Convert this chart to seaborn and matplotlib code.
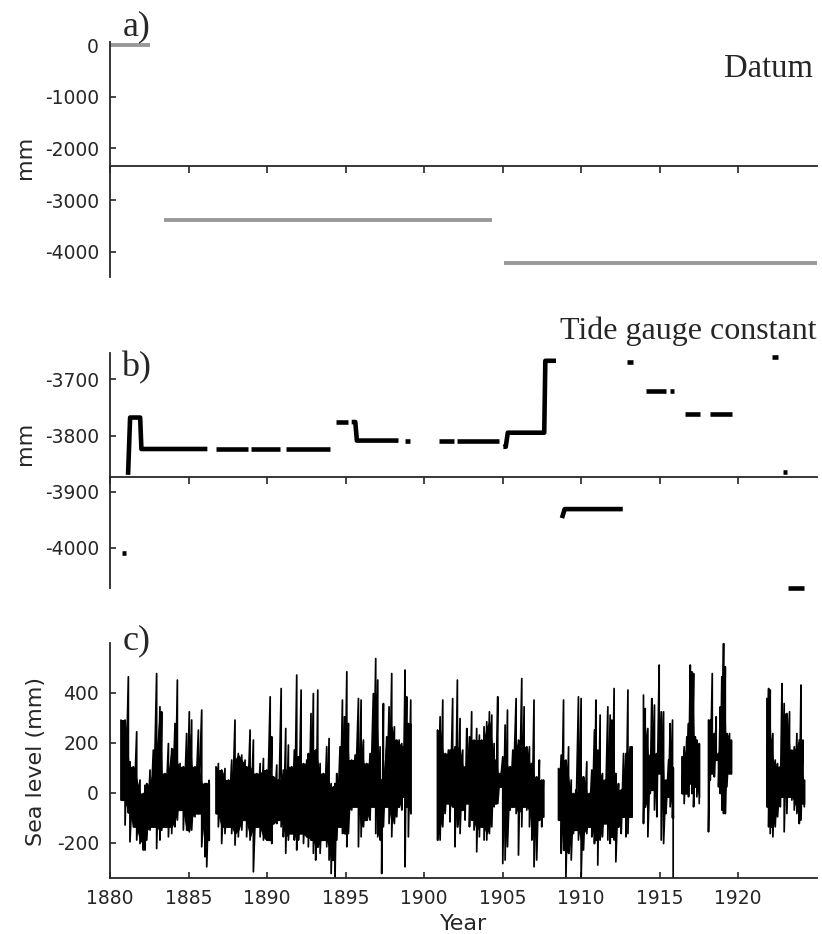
import numpy as np
import pandas as pd
import matplotlib
matplotlib.use("Agg")
import matplotlib.pyplot as plt
import seaborn as sns

# a) datum levels (mm), one flat piece per datum period
datum_start = [1880.0, 1883.47, 1905.1]
datum_end = [1882.55, 1904.3, 1925.0]
datum_level = [0, -3390, -4225]

# b) tide gauge constant (mm), None marks a break in the record
tgc_year = [1880.76, 1881.04, None,
            1881.15, 1881.28, 1881.92, 1882.0, 1886.2, None,
            1886.75, 1888.77, None,
            1888.95, 1890.83, None,
            1891.2, 1894.0, None,
            1894.37, 1895.18, None,
            1895.39, 1895.62, 1895.72, 1898.37, None,
            1898.8, 1899.1, None,
            1900.95, 1901.9, None,
            1902.1, 1904.8, None,
            1905.05, 1905.2, 1905.33, 1907.65, 1907.72, 1908.4, None,
            1908.78, 1908.95, 1912.65, None,
            1912.9, 1913.3, None,
            1914.15, 1915.4, None,
            1915.63, 1915.93, None,
            1916.6, 1917.6, None,
            1918.2, 1919.6, None,
            1922.15, 1922.55, None,
            1922.84, 1923.08, None,
            1923.2, 1924.2]
tgc_value = [-4009, -4009, None,
             -3870, -3768, -3768, -3824, -3824, None,
             -3824, -3824, None,
             -3824, -3824, None,
             -3824, -3824, None,
             -3776, -3776, None,
             -3776, -3776, -3809, -3809, None,
             -3809, -3809, None,
             -3809, -3809, None,
             -3809, -3809, None,
             -3820, -3820, -3795, -3795, -3667, -3667, None,
             -3947, -3931, -3931, None,
             -3670, -3670, None,
             -3720, -3720, None,
             -3720, -3720, None,
             -3761, -3761, None,
             -3761, -3761, None,
             -3661, -3661, None,
             -3865, -3865, None,
             -4072, -4072]

# c) sea level (mm): high / low of the trace in short steps, None = gap
sl_year = [1880.70, 1880.96, 1881.17, 1881.27, 1881.49, 1881.70, 1881.91, 1882.12,
           1882.23, 1882.34, 1882.55, 1882.76, 1882.97, 1883.18, 1883.29, 1883.50,
           1883.72, 1883.93, 1884.14, 1884.29, 1884.46, 1884.67, 1884.88, 1885.05,
           1885.20, 1885.41, 1885.63, 1885.84, 1886.05, 1886.16, 1886.31, None,
           1886.75, 1886.90, 1887.11, 1887.32, 1887.54, 1887.75, 1887.96, 1888.17,
           1888.39, 1888.60, 1888.70, 1888.92, 1889.13, 1889.34, 1889.56, 1889.77,
           1889.98, 1890.20, 1890.30, 1890.41, 1890.62, 1890.73, 1890.90, 1891.04,
           1891.19, 1891.36, 1891.57, 1891.74, 1891.89, 1892.00, 1892.17, 1892.32,
           1892.53, 1892.63, 1892.80, 1892.95, 1893.10, 1893.23, 1893.38, 1893.59,
           1893.80, 1893.95, 1894.08, 1894.23, 1894.33, 1894.44, 1894.65, 1894.80,
           1894.93, 1895.08, 1895.18, 1895.39, 1895.61, 1895.82, 1895.99, 1896.14,
           1896.35, 1896.56, 1896.77, 1896.92, 1897.05, 1897.20, 1897.30, 1897.41,
           1897.62, 1897.77, 1897.94, 1898.11, 1898.26, 1898.41, 1898.58, 1898.68,
           1898.79, 1898.89, 1899.00, 1899.15, None,
           1900.85, 1901.02, 1901.19, 1901.34, 1901.55, 1901.65, 1901.82, 1901.97,
           1902.12, 1902.29, 1902.46, 1902.61, 1902.72, 1902.89, 1903.03, 1903.18,
           1903.35, 1903.52, 1903.67, 1903.82, 1903.99, 1904.16, 1904.31, 1904.46,
           1904.58, 1904.69, 1904.84, 1905.01, 1905.16, 1905.31, 1905.48, 1905.65,
           1905.86, 1906.01, 1906.22, 1906.37, 1906.54, 1906.71, 1906.86, 1907.00,
           1907.17, 1907.34, 1907.49, 1907.60, None,
           1908.56, 1908.73, 1908.88, 1909.03, 1909.20, 1909.37, 1909.51, 1909.66,
           1909.83, 1910.00, 1910.15, 1910.36, 1910.51, 1910.68, 1910.85, 1910.94,
           1911.06, 1911.21, 1911.36, 1911.53, 1911.70, 1911.85, 1911.96, 1912.10,
           1912.21, 1912.38, 1912.55, 1912.70, 1912.85, 1912.98, 1913.12, 1913.23, None,
           1913.97, 1914.08, 1914.25, 1914.40, 1914.50, 1914.67, 1914.82, 1914.97,
           1915.10, 1915.25, 1915.40, 1915.57, 1915.67, 1915.82, 1915.86, None,
           1916.42, 1916.56, 1916.73, 1916.84, 1916.95, 1917.05, 1917.16, 1917.27,
           1917.37, 1917.52, None,
           1918.11, 1918.22, 1918.35, 1918.48, 1918.60, 1918.75, 1918.86, 1918.96,
           1919.07, 1919.18, 1919.28, 1919.45, 1919.56, None,
           1921.83, 1921.94, 1922.04, 1922.21, 1922.36, 1922.51, 1922.68, 1922.79,
           1922.93, 1923.10, 1923.27, 1923.42, 1923.57, 1923.74, 1923.89, 1924.00,
           1924.12, 1924.21]
sl_high = [291, 291, 464, 124, 104, 244, 51, -3,
           30, 37, 91, 171, 477, 344, 324, 77,
           197, 177, 277, 451, 117, 104, 237, 324,
           291, 104, 251, 331, 37, 37, 50, None,
           104, 117, 91, 97, 51, 131, 291, 157,
           151, 131, 104, 251, 211, 77, 117, 137,
           91, 384, 224, 64, 111, 51, 417, 91,
           257, 191, 104, 171, 471, 144, 411, 117,
           131, 157, 317, 397, 171, 411, 117, 77,
           184, 217, 37, 24, 37, 77, 184, 371,
           304, 484, 277, 131, 151, 377, 371, 211,
           117, 157, 397, 537, 451, 184, 51, 357,
           224, 344, 477, 264, 211, 211, 197, 184,
           491, 384, 277, 371, None,
           251, 304, 371, 157, 171, 171, 377, 184,
           451, 297, 171, 104, 257, 224, 324, 211,
           257, 231, 211, 264, 284, 324, 311, 197,
           131, 384, 77, 144, 271, 331, 104, 171,
           377, 211, 457, 344, 184, 184, 117, 371,
           64, 131, 51, 51, None,
           97, 151, 371, 131, 184, 51, -3, 11,
           384, 377, 64, 124, -3, 91, 251, 371,
           171, 311, 77, 51, 344, 311, 291, 417,
           77, 37, 11, 157, 157, 411, 184, 184, None,
           391, 337, 257, 151, 377, 351, 157, 511,
           324, 324, 51, 131, 277, 291, 100, None,
           144, 184, 224, 277, 511, 484, 477, 224,
           211, 197, None,
           291, 291, 477, 237, 304, 157, 344, 464,
           597, 504, 237, 237, 211, None,
           377, 417, 411, 237, 131, 117, 104, 437,
           357, 317, 324, 171, 184, 237, 211, 431,
           211, 51]
sl_low = [-29, -129, -80, -196, -136, -189, -203, -229,
          -229, -189, -149, -136, -223, -189, -150, -136,
          -176, -163, -136, -109, -69, -149, -149, -156,
          -149, -96, -83, -216, -256, -296, -189, None,
          -83, -136, -203, -163, -136, -163, -209, -176,
          -149, -109, -176, -189, -316, -136, -176, -189,
          -189, -189, -203, -123, -123, -109, -136, -176,
          -242, -189, -163, -189, -229, -189, -163, -203,
          -176, -216, -189, -242, -269, -216, -242, -189,
          -216, -269, -323, -269, -336, -189, -136, -163,
          -163, -216, -163, -69, -56, -216, -176, -136,
          -109, -109, -56, -163, -176, -189, -323, -136,
          -56, -123, -176, -123, -96, -56, -69, -16,
          -296, -56, -176, -83, None,
          -189, -189, -136, -83, -43, -116, -56, -216,
          -136, -163, -69, -109, -43, -136, -109, -149,
          -236, -176, -136, -189, -189, -163, -136, -56,
          -43, -43, 24, -283, -269, -216, -69, -56,
          -83, -249, -136, -56, -69, -136, -189, -296,
          -269, -109, -136, -96, None,
          -109, -242, -229, -343, -242, -269, -163, -149,
          -189, -343, -229, -163, -136, -176, -203, -189,
          -289, -189, -176, -123, -189, -203, -176, -189,
          -276, -136, -163, -96, -176, -163, -96, -96, None,
          -123, -56, -176, -3, 11, -69, -96, 77,
          -189, -203, -83, -16, -56, -100, -343, None,
          -3, -43, -3, -16, 37, -3, -56, 24,
          -16, -43, None,
          -156, 51, 77, 64, 131, 24, -3, -69,
          -83, -83, 24, 77, 77, None,
          -56, -136, -163, -176, -136, -96, -56, -16,
          -156, -83, -16, -29, -69, -83, -123, -109,
          -43, -56]

W, H = 822, 934
sns.set_theme(style="ticks")
plt.rcParams["font.family"] = ["DejaVu Sans"]
plt.rcParams["axes.unicode_minus"] = False
plt.rcParams["axes.linewidth"] = 1.3
plt.rcParams["xtick.major.width"] = 1.2
plt.rcParams["ytick.major.width"] = 1.2

fig = plt.figure(figsize=(W / 100, H / 100), dpi=100)


def px_axes(left, top, right, bottom):
    return fig.add_axes([left / W, 1 - bottom / H, (right - left) / W, (bottom - top) / H])


ax_a = px_axes(110, 41.7, 816.7, 276.7)
ax_b = px_axes(110, 353.5, 816.7, 588.3)
ax_c = px_axes(110, 643.3, 816.7, 878.3)

# --- a) datum
datum_df = pd.DataFrame({
    "year": datum_start + datum_end,
    "mm": datum_level + datum_level,
    "seg": list(range(3)) * 2,
})
sns.lineplot(data=datum_df, x="year", y="mm", units="seg", estimator=None,
             color="#999999", linewidth=2.8, solid_capstyle="butt", ax=ax_a)

# --- b) tide gauge constant
b_year = np.array(tgc_year, dtype=float)
b_val = np.array(tgc_value, dtype=float)
b_seg = np.cumsum(np.isnan(b_year))
tgc_df = pd.DataFrame({"year": b_year, "mm": b_val, "seg": b_seg}).dropna()
sns.lineplot(data=tgc_df, x="year", y="mm", units="seg", estimator=None, sort=False,
             color="black", linewidth=3.3, solid_capstyle="butt",
             solid_joinstyle="round", clip_on=False, ax=ax_b)

# --- c) sea level, trace runs high -> low at each step
c_year = np.array(sl_year, dtype=float)
c_seg = np.cumsum(np.isnan(c_year))
keep = ~np.isnan(c_year)
env = pd.DataFrame({
    "year": c_year[keep],
    "hi": np.array(sl_high, dtype=float)[keep],
    "lo": np.array(sl_low, dtype=float)[keep],
    "seg": c_seg[keep],
})
sl_df = pd.DataFrame({
    "year": np.repeat(env["year"].values, 2),
    "mm": np.column_stack([env["hi"], env["lo"]]).ravel(),
    "seg": np.repeat(env["seg"].values, 2),
})
sns.lineplot(data=sl_df, x="year", y="mm", units="seg", estimator=None, sort=False,
             color="black", linewidth=1.25, ax=ax_c)

# dense core of the trace: where neighbouring swings overlap
grp = env.groupby("seg")
env["core_hi"] = grp["hi"].transform(lambda s: s.rolling(3, center=True, min_periods=1).min())
env["core_lo"] = grp["lo"].transform(lambda s: s.rolling(3, center=True, min_periods=1).max())
for _, part in env.groupby("seg"):
    ax_c.fill_between(part["year"], part["core_lo"], part["core_hi"],
                      color="black", linewidth=0.8)

year_ticks = [1880, 1885, 1890, 1895, 1900, 1905, 1910, 1915, 1920]
for ax in (ax_a, ax_b, ax_c):
    ax.set_xlim(1880, 1925)
    ax.set_xticks(year_ticks)
    ax.set_xlabel("")
    ax.set_ylabel("")
    ax.spines["top"].set_visible(False)
    ax.spines["right"].set_visible(False)
    ax.tick_params(axis="y", direction="in", length=4.5, pad=8, labelsize=13.5)
    ax.set_facecolor("white")

ax_a.set_ylim(-4484, 64)
ax_a.set_yticks([0, -1000, -2000, -3000, -4000])
ax_a.spines["bottom"].set_position(("data", -2336))

ax_b.set_ylim(-4072, -3654)
ax_b.set_yticks([-3700, -3800, -3900, -4000])
ax_b.spines["bottom"].set_position(("data", -3874))

for ax in (ax_a, ax_b):
    ax.tick_params(axis="x", direction="out", length=5, labelbottom=False)

ax_c.set_ylim(-342, 598)
ax_c.set_yticks([-200, 0, 200, 400])
ax_c.tick_params(axis="x", direction="in", length=4.5, pad=8, labelsize=13.5)

serif = ["Liberation Serif", "DejaVu Serif"]
fig.text(123 / W, 1 - 35.5 / H, "a)", family=serif, size=26, va="baseline")
fig.text(121 / W, 1 - 376 / H, "b)", family=serif, size=26, va="baseline")
fig.text(123 / W, 1 - 649 / H, "c)", family=serif, size=26, va="baseline")
fig.text(813 / W, 1 - 77 / H, "Datum", family=serif, size=23.5, ha="right", va="baseline")
fig.text(817 / W, 1 - 339 / H, "Tide gauge constant", family=serif, size=23,
         ha="right", va="baseline")

fig.text(25 / W, 1 - 157 / H, "mm", rotation=90, size=16, ha="center", va="center")
fig.text(25 / W, 1 - 443 / H, "mm", rotation=90, size=16, ha="center", va="center")
fig.text(36 / W, 1 - 761 / H, "Sea level (mm)", rotation=90, size=16,
         ha="center", va="center")
fig.text(464 / W, 1 - 930 / H, "Year", size=16, ha="center", va="baseline")

fig.savefig("out.png", dpi=100, facecolor="white")
